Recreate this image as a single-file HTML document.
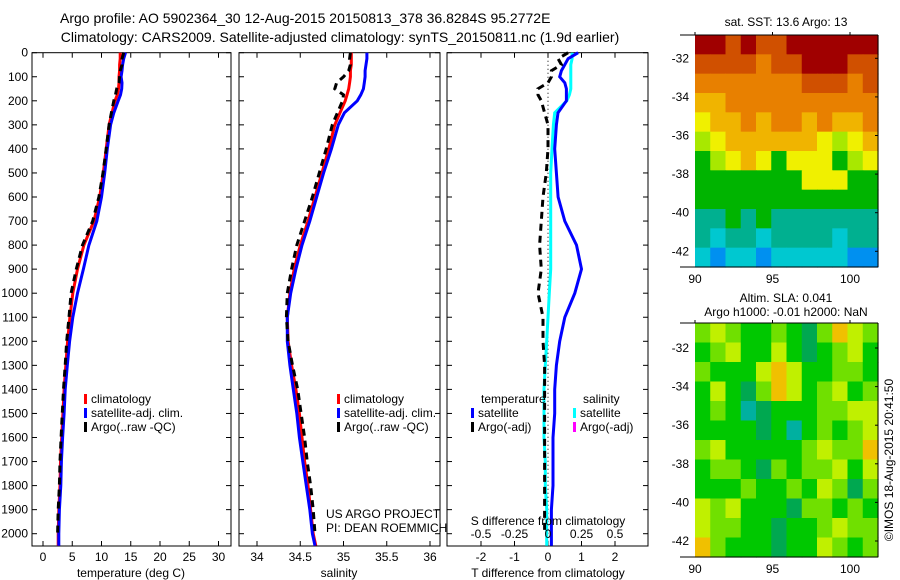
<!DOCTYPE html>
<html><head><meta charset="utf-8">
<style>
html,body{margin:0;padding:0;background:#fff;}
svg{display:block;font-family:"Liberation Sans",sans-serif;}
text{fill:#000;}
</style></head>
<body>
<svg id="fig" width="900" height="580" viewBox="0 0 900 580" xmlns="http://www.w3.org/2000/svg">
<text x="60" y="23" font-size="14">Argo profile: AO 5902364_30 12-Aug-2015 20150813_378 36.8284S 95.2772E</text>
<text x="340" y="42" font-size="14" text-anchor="middle">Climatology: CARS2009. Satellite-adjusted climatology: synTS_20150811.nc (1.9d earlier)</text>
<g id="plots"></g>
</svg>
<script>
const depths=[0,25,50,75,100,125,150,175,200,250,300,400,500,600,700,800,900,1000,1100,1200,1300,1400,1500,1600,1700,1800,1900,2000,2050];
const climT=[13.2,13.2,13.1,13.1,13.0,13.0,12.9,12.7,12.3,11.8,11.3,10.8,10.3,9.7,8.7,7.0,5.9,5.1,4.6,4.2,3.9,3.6,3.4,3.2,3.0,2.9,2.7,2.6,2.6];
const satT=[14.1,13.8,13.6,13.5,13.35,13.5,13.45,13.25,12.85,12.1,11.55,11.0,10.55,10.0,9.2,7.85,6.9,5.9,5.1,4.55,4.15,3.8,3.6,3.35,3.15,3.05,2.8,2.7,2.7];
const argoT=[13.8,13.5,13.5,13.2,13.1,13.0,12.6,12.4,12.1,11.7,11.3,10.8,10.25,9.55,8.5,6.75,5.7,4.8,4.45,4.05,3.8,3.5,3.3,3.1,2.9,2.8,2.6,2.5,null];
const climS=[35.09,35.09,35.09,35.08,35.08,35.07,35.06,35.04,35.02,34.96,34.9,34.83,34.75,34.67,34.59,34.5,34.43,34.38,34.35,34.36,34.4,34.45,34.49,34.52,34.55,34.59,34.62,34.65,34.68];
const satS=[35.27,35.27,35.26,35.25,35.25,35.24,35.23,35.2,35.16,35.01,34.94,34.86,34.77,34.69,34.61,34.52,34.45,34.39,34.35,34.35,34.38,34.42,34.46,34.49,34.53,34.57,34.61,34.64,34.67];
const argoS=[35.08,35.07,35.08,35.06,35.0,34.92,34.9,35.0,34.99,34.93,34.87,34.8,34.72,34.64,34.55,34.46,34.4,34.35,34.34,34.36,34.41,34.47,34.51,34.55,34.58,34.62,34.65,34.67,null];
const depthTicks=[0,100,200,300,400,500,600,700,800,900,1000,1100,1200,1300,1400,1500,1600,1700,1800,1900,2000];
const tTicks=[0,5,10,15,20,25,30];
const sTicks=[34,34.5,35,35.5,36];
const dTTicks=[-2,-1,0,1,2];
const dSTicks=[-0.5,-0.25,0,0.25,0.5];
const sstLats=[-32,-34,-36,-38,-40,-42];
const lonTicks=[90,95,100];
const sstGrid=[
[10,10,9,10,9,9,10,10,10,10,10,10],
[9,9,9,9,8,9,9,10,10,10,9,9],
[8,8,8,8,8,8,8,9,9,9,8,9],
[7,7,8,8,8,8,8,8,8,8,8,8],
[6,7,7,8,7,8,8,7,8,7,7,8],
[5,6,7,7,7,7,7,7,6,5,6,7],
[4,5,6,7,6,4,6,6,6,4,5,6],
[4,4,4,4,4,4,4,6,6,6,4,4],
[4,4,4,4,4,4,4,4,4,4,4,4],
[3,3,4,3,4,3,3,3,3,3,3,3],
[3,2,3,3,2,3,3,3,3,2,3,3],
[2,1,2,2,1,2,2,2,2,2,1,1]];
const slaGrid=[
[3,4,3,2,2,3,2,1,3,5,4,3],
[2,3,4,2,2,4,2,1,2,3,4,2],
[3,2,2,2,4,5,4,2,2,3,3,2],
[2,4,2,1,3,5,4,2,3,4,2,3],
[2,3,2,0,1,2,2,2,3,3,4,4],
[2,2,2,2,1,2,0,2,3,2,3,4],
[3,4,2,2,2,2,2,3,4,3,3,5],
[2,3,3,2,1,3,2,3,3,4,2,4],
[2,2,2,3,2,2,3,2,4,3,1,3],
[4,3,4,2,2,2,1,3,3,2,3,2],
[4,3,3,2,2,1,2,2,3,4,3,3],
[5,3,2,2,2,1,2,2,4,3,2,3]];
const sstPal=["#0040f0","#0090f0","#00c8d0","#00b090","#00b400","#a8e800","#f0f000","#f0b400","#e88000","#d05000","#a00000"];
const slaPal=["#00b0a0","#00a850","#00c800","#70e000","#c0f000","#f0c000"];

const NS="http://www.w3.org/2000/svg";
const root=document.getElementById('plots');
function mk(tag,attrs,parent){const e=document.createElementNS(NS,tag);for(const k in attrs)e.setAttribute(k,attrs[k]);(parent||root).appendChild(e);return e;}
function txt(x,y,s,size,anchor,parent){const t=mk('text',{x:x,y:y,'font-size':size||12,'text-anchor':anchor||'start'},parent);t.textContent=s;return t;}
const yD=d=>52.7+0.2405*d;
const yTop=52.7,yBot=546;
const xT=v=>43+5.85*v;
const xS=v=>257+86.5*(v-34);
const xdT=v=>548+33.5*v;
const xdS=v=>548+134*v;

function frame(x0,x1,name){
  const g=mk('g',{});
  
  
  mk('rect',{x:x0,y:yTop,width:x1-x0,height:yBot-yTop,fill:'none',stroke:'#000','stroke-width':1},g);
  return g;
}
function line(xs,ys,color,dash,name,parent){
  let d='',pen=false;
  for(let i=0;i<ys.length;i++){
    if(xs[i]==null){pen=false;continue;}
    d+=(pen?'L':'M')+xs[i].toFixed(1)+' '+yD(ys[i]).toFixed(1)+' ';pen=true;
  }
  const p=mk('path',{d:d,fill:'none',stroke:color,'stroke-width':3},parent);
  if(dash)p.setAttribute('stroke-dasharray',dash);
  
  
  return p;
}
function depthAxis(x0,x1,g,labels){
  depthTicks.forEach(d=>{
    const y=yD(d);
    mk('line',{x1:x0,x2:x0+5,y1:y,y2:y,stroke:'#000'},g);
    mk('line',{x1:x1,x2:x1-5,y1:y,y2:y,stroke:'#000'},g);
    if(labels){const t=txt(x0-4,y+4,String(d),12,'end',g);}
  });
}
function xAxis(ticks,fx,g,yLab,withTop){
  ticks.forEach(v=>{
    const x=fx(v);
    mk('line',{x1:x,x2:x,y1:yBot,y2:yBot-5,stroke:'#000'},g);
    if(withTop)mk('line',{x1:x,x2:x,y1:yTop,y2:yTop+5,stroke:'#000'},g);
    const t=txt(x,yLab,String(v),12,'middle',g);
    
    
  });
}
function legend(x,y,items,g){
  items.forEach((it,i)=>{
    mk('rect',{x:x,y:y+i*14-9,width:3,height:10,fill:it[0]},g);
    const t=txt(x+7,y+i*14,it[1],12,'start',g);
    
    
  });
}

const g1=frame(32,231,'temperature-panel');
depthAxis(32,231,g1,true);
xAxis(tTicks,xT,g1,561,true);
line(climT.map(xT),depths,'#ff0000',null,'climatology-temperature-line',g1);
line(satT.map(xT),depths,'#0000ff',null,'satellite-temperature-line',g1);
line(argoT.map(v=>v==null?null:xT(v)),depths,'#000',"7 5",'argo-temperature-line',g1);
legend(84,403,[['#ff0000','climatology'],['#0000ff','satellite-adj. clim.'],['#000','Argo(..raw -QC)']],g1);
{const t=txt(131,577,'temperature (deg C)',12,'middle',g1);}

const g2=frame(239,440,'salinity-panel');
depthAxis(239,440,g2,false);
xAxis(sTicks,xS,g2,561,true);
line(climS.map(xS),depths,'#ff0000',null,'climatology-salinity-line',g2);
line(satS.map(xS),depths,'#0000ff',null,'satellite-salinity-line',g2);
line(argoS.map(v=>v==null?null:xS(v)),depths,'#000',"7 5",'argo-salinity-line',g2);
legend(337,403,[['#ff0000','climatology'],['#0000ff','satellite-adj. clim.'],['#000','Argo(..raw -QC)']],g2);
{const t=txt(339,577,'salinity',12,'middle',g2);}
{const t=txt(326,518,'US ARGO PROJECT',12,'start',g2);}
{const t=txt(326,532,'PI: DEAN ROEMMICH',12,'start',g2);}

const g3=frame(447,648,'difference-panel');
depthAxis(447,648,g3,false);
xAxis(dTTicks,xdT,g3,561,true);
mk('line',{x1:xdT(0),x2:xdT(0),y1:yTop,y2:yBot,stroke:'#000','stroke-dasharray':'1 3'},g3);
line(satS.map((v,i)=>xdS(v-climS[i])),depths,'#00ffff',null,'satellite-salinity-diff-line',g3);
line(satT.map((v,i)=>xdT(v-climT[i])),depths,'#0000ff',null,'satellite-temperature-diff-line',g3);
line(argoT.map((v,i)=>v==null?null:xdT(v-climT[i])),depths,'#000',"7 5",'argo-temperature-diff-line',g3);
dSTicks.forEach(v=>{const t=txt(xdS(v),538,String(v),12,'middle',g3);});
{const t=txt(548,525,'S difference from climatology',12,'middle',g3);}
{const t=txt(548,577,'T difference from climatology',12,'middle',g3);}
{const t=txt(481,403,'temperature',12,'start',g3);}
{const t=txt(583,403,'salinity',12,'start',g3);}
legend(471,417,[['#0000ff','satellite'],['#000','Argo(-adj)']],g3);
legend(573,417,[['#00ffff','satellite'],['#ff00ff','Argo(-adj)']],g3);

function mapPanel(x0,y0,w,h,grid,pal,latY0,latStep,name){
  const g=mk('g',{});
  
  
  const rows=grid.length,cols=grid[0].length,cw=w/cols,ch=h/rows;
  grid.forEach((row,r)=>row.forEach((v,c)=>{
    const rc=mk('rect',{x:(x0+c*cw).toFixed(2),y:(y0+r*ch).toFixed(2),width:(cw+0.6).toFixed(2),height:(ch+0.6).toFixed(2),fill:pal[v]},g);
    
    
  }));
  mk('line',{x1:x0-15,x2:x0,y1:y0,y2:y0,stroke:'#000'},g);
  mk('line',{x1:x0-15,x2:x0,y1:y0+h,y2:y0+h,stroke:'#000'},g);
  mk('line',{x1:x0,x2:x0+w,y1:y0+h,y2:y0+h,stroke:'#000'},g);
  mk('line',{x1:x0,x2:x0+w,y1:y0,y2:y0,stroke:'#000'},g);
  mk('line',{x1:x0+w,x2:x0+w,y1:y0,y2:y0+h,stroke:'#000'},g);
  sstLats.forEach((lat,i)=>{
    const y=latY0+i*latStep;
    mk('line',{x1:x0+w,x2:x0+w-3,y1:y,y2:y,stroke:'#000'},g);
    const t=txt(x0-6,y+4,String(lat),12,'end',g);
    
    
  });
  lonTicks.forEach(lon=>{
    const x=x0+(lon-90)*15.5;
    mk('line',{x1:x,x2:x,y1:y0,y2:y0-3,stroke:'#000'},g);
    const t=txt(x,y0+h+16,String(lon),12,'middle',g);
    
    
  });
}
mapPanel(695,35,183,232,sstGrid,sstPal,58.3,38.6,'sst-map');
mapPanel(695,323,183,234,slaGrid,slaPal,348,38.6,'sla-map');
{const t=txt(786,26,'sat. SST: 13.6 Argo: 13',12,'middle');}
{const t=txt(786,302,'Altim. SLA: 0.041',12,'middle');}
{const t=txt(786,316,'Argo h1000: -0.01 h2000: NaN',12,'middle');}
{const t=txt(0,0,'©IMOS 18-Aug-2015 20:41:50',12,'middle');t.setAttribute('transform','translate(893,460) rotate(-90)');}
</script>
</body></html>
